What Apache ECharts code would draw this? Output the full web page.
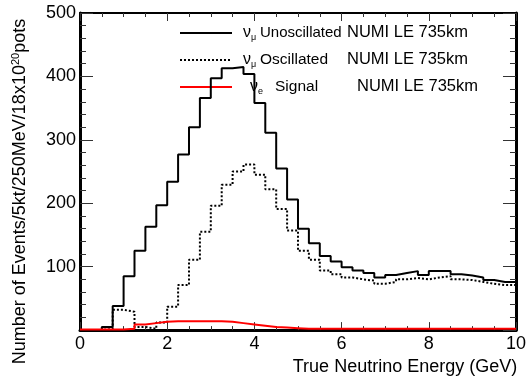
<!DOCTYPE html>
<html>
<head>
<meta charset="utf-8">
<script src="https://cdn.jsdelivr.net/npm/echarts@6/dist/echarts.min.js"></script>
<style>
html,body{margin:0;padding:0;background:#fff;}
#chart{width:529px;height:381px;}
</style>
</head>
<body>
<div id="chart"></div>
<script>
// Histogram binning (GeV)
var binLow = 0;
var binWidth = 0.25;
// nu_mu unoscillated, NUMI LE 735km (events per 0.25 GeV bin)
var unoscillated = [0, 0, 5, 38, 85, 125, 163, 197, 234, 277,
                    320, 366, 397, 413, 415, 404, 358, 311, 255, 206,
                    160, 137, 117, 108, 99, 94, 90, 83, 87, 90,
                    93, 87, 93, 93, 88, 86, 83, 79, 76, 76];
// nu_mu oscillated, NUMI LE 735km
var oscillated = [0, 0, 2, 32, 29, 5, 2, 12, 37, 71,
                  111, 155, 196, 229, 250, 261, 245, 222, 191, 157,
                  125, 111, 94, 88, 83, 80, 78, 73, 76, 80,
                  82, 80, 83, 85, 80, 79, 76, 73, 71, 71];
// nu_e signal, NUMI LE 735km
var signal = [1, 1, 1, 1, 2, 9, 11, 13, 14, 14,
              14, 14, 14, 13, 11, 9, 7, 5, 4, 3,
              2, 2, 2, 2, 2, 2, 2, 2, 2, 2,
              2, 2, 2, 2, 2, 2, 2, 2, 2, 2];
var yTickLabels = ['', '100', '200', '300', '400', '500'];
var xTickLabels = ['0', '2', '4', '6', '8', '10'];

function histPoints(vals) {
  var pts = vals.map(function (v, i) { return [binLow + i * binWidth, v]; });
  pts.push([binLow + vals.length * binWidth, vals[vals.length - 1]]);
  return pts;
}

var FONT = '"Liberation Sans", Arial, Helvetica, sans-serif';
var chart = echarts.init(document.getElementById('chart'), null, {renderer: 'canvas'});

var xBase = {
  type: 'value', min: 0, max: 10, interval: 2,
  splitLine: {show: false},
  axisTick: {inside: true, length: 8, lineStyle: {color: '#333', width: 1}},
  minorTick: {show: true, splitNumber: 4, length: 4, lineStyle: {color: '#333', width: 1}}
};
var yBase = {
  type: 'value', min: 0, max: 500, interval: 100,
  splitLine: {show: false},
  axisTick: {inside: true, length: 13, lineStyle: {color: '#333', width: 1}},
  minorTick: {show: true, splitNumber: 5, length: 6, lineStyle: {color: '#333', width: 1}}
};

var option = {
  animation: false,
  backgroundColor: '#fff',
  grid: {left: 80, right: 5, top: 13, bottom: 40, containLabel: false},
  xAxis: [
    Object.assign({}, xBase, {
      position: 'bottom',
      axisLine: {show: true, onZero: false, lineStyle: {color: '#000', width: 3}},
      axisLabel: {fontFamily: FONT, fontSize: 18, color: '#000', margin: 5,
        formatter: function (v) { return xTickLabels[Math.round(v / 2)]; }},
      name: 'True Neutrino Energy (GeV)',
      nameLocation: 'middle', nameGap: 21,
      nameTextStyle: {fontFamily: FONT, fontSize: 18, color: '#000', padding: [0, 0, 0, 214]}
    }),
    Object.assign({}, xBase, {
      position: 'top',
      axisLine: {show: true, onZero: false, lineStyle: {color: '#000', width: 2}},
      axisLabel: {show: false}
    })
  ],
  yAxis: [
    Object.assign({}, yBase, {
      position: 'left',
      axisLine: {show: true, onZero: false, lineStyle: {color: '#000', width: 3}},
      axisLabel: {fontFamily: FONT, fontSize: 18, color: '#000', margin: 4,
        formatter: function (v) { return yTickLabels[Math.round(v / 100)]; }},
      name: 'Number of Events/5kt/250MeV/18x10{sup|20}pots',
      nameLocation: 'middle', nameGap: 50, nameRotate: 90,
      nameTextStyle: {fontFamily: FONT, fontSize: 18, color: '#000', padding: [0, 40, 0, 0],
        rich: {sup: {fontFamily: FONT, fontSize: 11, color: '#000', padding: [0, 0, 9, 0]}}}
    }),
    Object.assign({}, yBase, {
      position: 'right',
      axisLine: {show: true, onZero: false, lineStyle: {color: '#000', width: 3}},
      axisLabel: {show: false}
    })
  ],
  series: [
    {
      name: 'νμ Unoscillated NUMI LE 735km', type: 'line', step: 'end',
      data: histPoints(unoscillated), symbol: 'none', z: 3,
      lineStyle: {color: '#000', width: 2}
    },
    {
      name: 'νμ Oscillated NUMI LE 735km', type: 'line', step: 'end',
      data: histPoints(oscillated), symbol: 'none', z: 4,
      lineStyle: {color: '#000', width: 2, type: [2, 2]}
    },
    {
      name: 'νe Signal NUMI LE 735km', type: 'line', step: 'end',
      data: histPoints(signal), symbol: 'none', z: 5,
      lineStyle: {color: '#ff0000', width: 2}
    }
  ],
  graphic: [
    {type: 'line', shape: {x1: 180, y1: 33, x2: 232, y2: 33}, style: {stroke: '#000', lineWidth: 2}},
    {type: 'line', shape: {x1: 180, y1: 60, x2: 232, y2: 60}, style: {stroke: '#000', lineWidth: 2, lineDash: [2, 2]}},
    {type: 'line', shape: {x1: 180, y1: 87, x2: 232, y2: 87}, style: {stroke: '#ff0000', lineWidth: 2}},

    {type: 'text', x: 243, y: 32.5, style: {text: 'ν', font: '16px ' + FONT, fill: '#000', verticalAlign: 'middle'}},
    {type: 'text', x: 251, y: 37.5, style: {text: 'μ', font: '9px ' + FONT, fill: '#000', verticalAlign: 'middle'}},
    {type: 'text', x: 260, y: 32.5, style: {text: 'Unoscillated', font: '15px ' + FONT, fill: '#000', verticalAlign: 'middle'}},
    {type: 'text', x: 347, y: 32.5, style: {text: 'NUMI LE 735km', font: '16.5px ' + FONT, fill: '#000', verticalAlign: 'middle'}},

    {type: 'text', x: 243, y: 59.5, style: {text: 'ν', font: '16px ' + FONT, fill: '#000', verticalAlign: 'middle'}},
    {type: 'text', x: 251, y: 64.5, style: {text: 'μ', font: '9px ' + FONT, fill: '#000', verticalAlign: 'middle'}},
    {type: 'text', x: 260, y: 59.5, style: {text: 'Oscillated', font: '15.5px ' + FONT, fill: '#000', verticalAlign: 'middle'}},
    {type: 'text', x: 347, y: 59.5, style: {text: 'NUMI LE 735km', font: '16.5px ' + FONT, fill: '#000', verticalAlign: 'middle'}},

    {type: 'text', x: 250, y: 86.5, style: {text: 'ν', font: '16px ' + FONT, fill: '#000', verticalAlign: 'middle'}},
    {type: 'text', x: 258, y: 91.5, style: {text: 'e', font: '9px ' + FONT, fill: '#000', verticalAlign: 'middle'}},
    {type: 'text', x: 275, y: 86.5, style: {text: 'Signal', font: '15.5px ' + FONT, fill: '#000', verticalAlign: 'middle'}},
    {type: 'text', x: 357, y: 86.5, style: {text: 'NUMI LE 735km', font: '16.5px ' + FONT, fill: '#000', verticalAlign: 'middle'}}
  ]
};
chart.setOption(option);
</script>
</body>
</html>
